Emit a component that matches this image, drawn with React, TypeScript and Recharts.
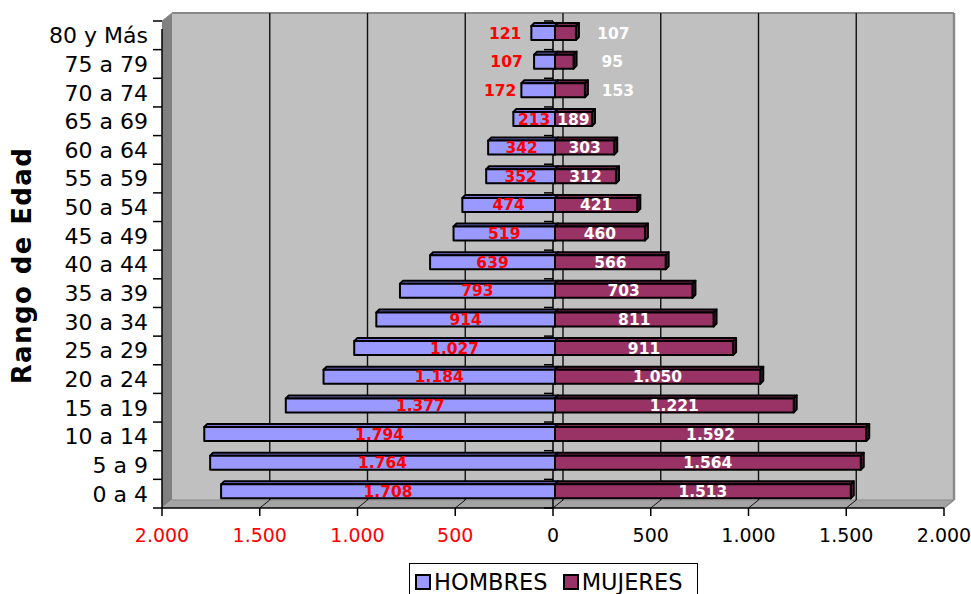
import React from 'react';
import {
  BarChart, Bar, XAxis, YAxis, CartesianGrid, Legend, LabelList,
  ReferenceArea, ReferenceLine,
} from 'recharts';

// Age groups, from youngest (bottom) to oldest (top)
const categories = [
  '0 a 4', '5 a 9', '10 a 14', '15 a 19', '20 a 24', '25 a 29', '30 a 34',
  '35 a 39', '40 a 44', '45 a 49', '50 a 54', '55 a 59', '60 a 64', '65 a 69',
  '70 a 74', '75 a 79', '80 y Más',
];
const hombres = [1708, 1764, 1794, 1377, 1184, 1027, 914, 793, 639, 519, 474, 352, 342, 213, 172, 107, 121];
const mujeres = [1513, 1564, 1592, 1221, 1050, 911, 811, 703, 566, 460, 421, 312, 303, 189, 153, 95, 107];
const xTicks = [-2000, -1500, -1000, -500, 0, 500, 1000, 1500, 2000];
const gridValues = [-1500, -1000, -500, 0, 500, 1000, 1500];

const data = categories.map((cat, i) => ({
  cat,
  hombres: -hombres[i],
  mujeres: mujeres[i],
}));

const FONT = "Verdana, 'DejaVu Sans', sans-serif";
const WALL_DX = 10;
const WALL_DY = -8;
const BAR_SHIFT_X = 2;
const BAR_SHIFT_Y = -2;
const BAR_DEPTH = 3;

const fmt = (v: number) =>
  String(Math.abs(Math.round(v))).replace(/\B(?=(\d{3})+(?!\d))/g, '.');

const norm = (x: number, y: number, w: number, h: number) => ({
  x0: Math.min(x, x + w),
  y0: Math.min(y, y + h),
  w: Math.abs(w),
  h: Math.abs(h),
});

function Walls(props: any) {
  const { x, y, width, height } = props;
  const dx = WALL_DX;
  const dy = WALL_DY;
  const b = y + height;
  const r = x + width;
  return (
    <g>
      <rect x={x + dx} y={y + dy} width={width} height={height} fill="#C0C0C0" />
      <polygon
        points={`${x},${y} ${x + dx},${y + dy} ${x + dx},${b + dy} ${x},${b}`}
        fill="#808080"
      />
      <polygon
        points={`${x},${b} ${x + dx},${b + dy} ${r + dx},${b + dy} ${r},${b}`}
        fill="#A4A4A4"
      />
      <line x1={x + dx} y1={b + dy} x2={r + dx} y2={b + dy} stroke="#8a8a8a" strokeWidth={1} />
      <line x1={x + dx} y1={y + dy} x2={r + dx} y2={y + dy} stroke="#8a8a8a" strokeWidth={2} />
      <line x1={r + dx} y1={y + dy} x2={r + dx} y2={b + dy} stroke="#8a8a8a" strokeWidth={2.5} />
      <line x1={r} y1={b} x2={r + dx} y2={b + dy} stroke="#8a8a8a" strokeWidth={1.5} />
      <line x1={x} y1={y} x2={x + dx} y2={y + dy} stroke="#8a8a8a" strokeWidth={1} />
    </g>
  );
}

function GridLine(props: any) {
  const { x1, y1, y2 } = props;
  return (
    <g>
      <line x1={x1 + WALL_DX} y1={y1 + WALL_DY} x2={x1 + WALL_DX} y2={y2 + WALL_DY} stroke="#111" strokeWidth={1.4} />
      <line x1={x1} y1={y2} x2={x1 + WALL_DX} y2={y2 + WALL_DY} stroke="#111" strokeWidth={1} />
    </g>
  );
}

function makeBoundaryAxis(extend: number) {
  return function BoundaryAxis(props: any) {
    const { x1, y1, y2 } = props;
    const n = categories.length;
    const ticks = [];
    for (let i = 0; i <= n; i++) {
      const ty = y1 + ((y2 - y1) * i) / n;
      ticks.push(<line key={i} x1={x1 - 9} y1={ty} x2={x1} y2={ty} stroke="#000" strokeWidth={1.5} />);
    }
    return (
      <g>
        <line x1={x1} y1={y1} x2={x1} y2={y2 + extend} stroke="#000" strokeWidth={1.5} />
        {ticks}
      </g>
    );
  };
}

function makeBar3D(fill: string, topFill: string, sideFill: string) {
  return function Bar3D(props: any) {
    const { x, y, width, height } = props;
    if (x == null || y == null) return null;
    const { x0, y0, w, h } = norm(x, y, width, height);
    const fx = x0 + BAR_SHIFT_X;
    const fy = y0 + BAR_SHIFT_Y;
    const d = BAR_DEPTH;
    return (
      <g stroke="#000" strokeWidth={2} strokeLinejoin="round">
        <polygon
          points={`${fx},${fy} ${fx + d},${fy - d} ${fx + w + d},${fy - d} ${fx + w},${fy}`}
          fill={topFill}
        />
        <polygon
          points={`${fx + w},${fy} ${fx + w + d},${fy - d} ${fx + w + d},${fy + h - d} ${fx + w},${fy + h}`}
          fill={sideFill}
        />
        <rect x={fx} y={fy} width={w} height={h} fill={fill} />
      </g>
    );
  };
}

function MenLabel(props: any) {
  const { x, y, width, height, value } = props;
  if (x == null || value == null) return null;
  const { x0, y0, w, h } = norm(x, y, width, height);
  let cx = x0 + w / 2 + BAR_SHIFT_X;
  if (Math.abs(value) < 200) cx -= 38;
  const cy = y0 + h / 2 + BAR_SHIFT_Y;
  return (
    <text x={cx} y={cy} dy="0.36em" textAnchor="middle" fill="#FF0000"
      fontFamily={FONT} fontWeight="bold" fontSize={15.5}>
      {fmt(value)}
    </text>
  );
}

function WomenLabel(props: any) {
  const { x, y, width, height, value } = props;
  if (x == null || value == null) return null;
  const { x0, y0, w, h } = norm(x, y, width, height);
  let cx = x0 + w / 2 + BAR_SHIFT_X;
  if (Math.abs(value) < 170) cx += 48;
  const cy = y0 + h / 2 + BAR_SHIFT_Y;
  return (
    <text x={cx} y={cy} dy="0.36em" textAnchor="middle" fill="#FFFFFF"
      fontFamily={FONT} fontWeight="bold" fontSize={15.5}>
      {fmt(value)}
    </text>
  );
}

function XTick(props: any) {
  const { x, y, payload } = props;
  const v = payload.value;
  return (
    <text x={x} y={y} dy={24} textAnchor="middle" fill={v < 0 ? '#FF0000' : '#000000'}
      fontFamily={FONT} fontSize={19}>
      {fmt(v)}
    </text>
  );
}

function YTick(props: any) {
  const { x, y, payload } = props;
  return (
    <text x={x} y={y} dy="0.36em" textAnchor="end" fill="#000" fontFamily={FONT} fontSize={22}>
      {payload.value}
    </text>
  );
}

function AxisTitle(props: any) {
  const vb = props.viewBox || { x: 0, y: 21, width: 162, height: 487 };
  const cx = vb.x + 22;
  const cy = vb.y + vb.height / 2 + 1;
  return (
    <text x={cx} y={cy} transform={`rotate(-90, ${cx}, ${cy})`} textAnchor="middle"
      dominantBaseline="central" fill="#000" fontFamily={FONT} fontWeight="bold"
      fontSize={26} letterSpacing={1.4}>
      Rango de Edad
    </text>
  );
}

function LegendBox(props: any) {
  const payload = props.payload || [];
  return (
    <div style={{
      border: '1px solid #000', background: '#fff', height: 40, boxSizing: 'border-box',
      display: 'flex', alignItems: 'center', paddingLeft: 5,
      fontFamily: FONT, fontSize: 22.5, lineHeight: '24px', color: '#000',
    }}>
      <div style={{ display: 'flex', alignItems: 'center', marginTop: -2 }}>
        {payload.map((p: any, i: number) => (
          <div key={i} style={{ display: 'flex', alignItems: 'center', marginRight: i === 0 ? 15 : 0 }}>
            <span style={{
              display: 'inline-block', width: 16, height: 16, boxSizing: 'border-box',
              border: '2.5px solid #000', background: p.color, marginRight: 3,
            }} />
            <span>{p.value}</span>
          </div>
        ))}
      </div>
    </div>
  );
}

export default function App() {
  return (
    <div style={{ position: 'absolute', left: 0, top: 0, width: 971, height: 594, background: '#fff' }}>
      <BarChart
        width={971}
        height={594}
        data={data}
        layout="vertical"
        stackOffset="sign"
        barCategoryGap={0}
        margin={{ top: 21, right: 27, bottom: 46, left: 0 }}
      >
        <ReferenceArea x1={-2000} x2={2000} shape={Walls} ifOverflow="visible" zIndex={-200} />
        <CartesianGrid horizontal={false} verticalValues={gridValues} vertical={GridLine} zIndex={-100} />
        <ReferenceLine x={-2000} shape={makeBoundaryAxis(8)} ifOverflow="visible" zIndex={150} />
        <ReferenceLine x={0} shape={makeBoundaryAxis(0)} ifOverflow="visible" zIndex={150} />
        <XAxis
          type="number"
          domain={[-2000, 2000]}
          ticks={xTicks}
          interval={0}
          height={40}
          tickSize={8}
          tick={XTick}
          axisLine={{ stroke: '#000', strokeWidth: 1.5 }}
          tickLine={{ stroke: '#000', strokeWidth: 1.5 }}
          allowDataOverflow
        />
        <YAxis
          type="category"
          dataKey="cat"
          reversed
          width={162}
          interval={0}
          tickSize={8}
          tickMargin={6}
          tick={YTick}
          tickLine={false}
          axisLine={false}
          label={AxisTitle}
        />
        <Legend
          layout="horizontal"
          verticalAlign="middle"
          align="center"
          content={LegendBox}
          wrapperStyle={{ position: 'absolute', left: 409, top: 563, width: 289, height: 40 }}
        />
        <Bar dataKey="hombres" name="HOMBRES" stackId="a" fill="#9999FF" barSize={14}
          shape={makeBar3D('#9999FF', '#7777DD', '#6666BB')} isAnimationActive={false}>
          <LabelList dataKey="hombres" content={MenLabel} />
        </Bar>
        <Bar dataKey="mujeres" name="MUJERES" stackId="a" fill="#993366" barSize={14}
          shape={makeBar3D('#993366', '#7a2850', '#5c1e3d')} isAnimationActive={false}>
          <LabelList dataKey="mujeres" content={WomenLabel} />
        </Bar>
      </BarChart>
    </div>
  );
}
